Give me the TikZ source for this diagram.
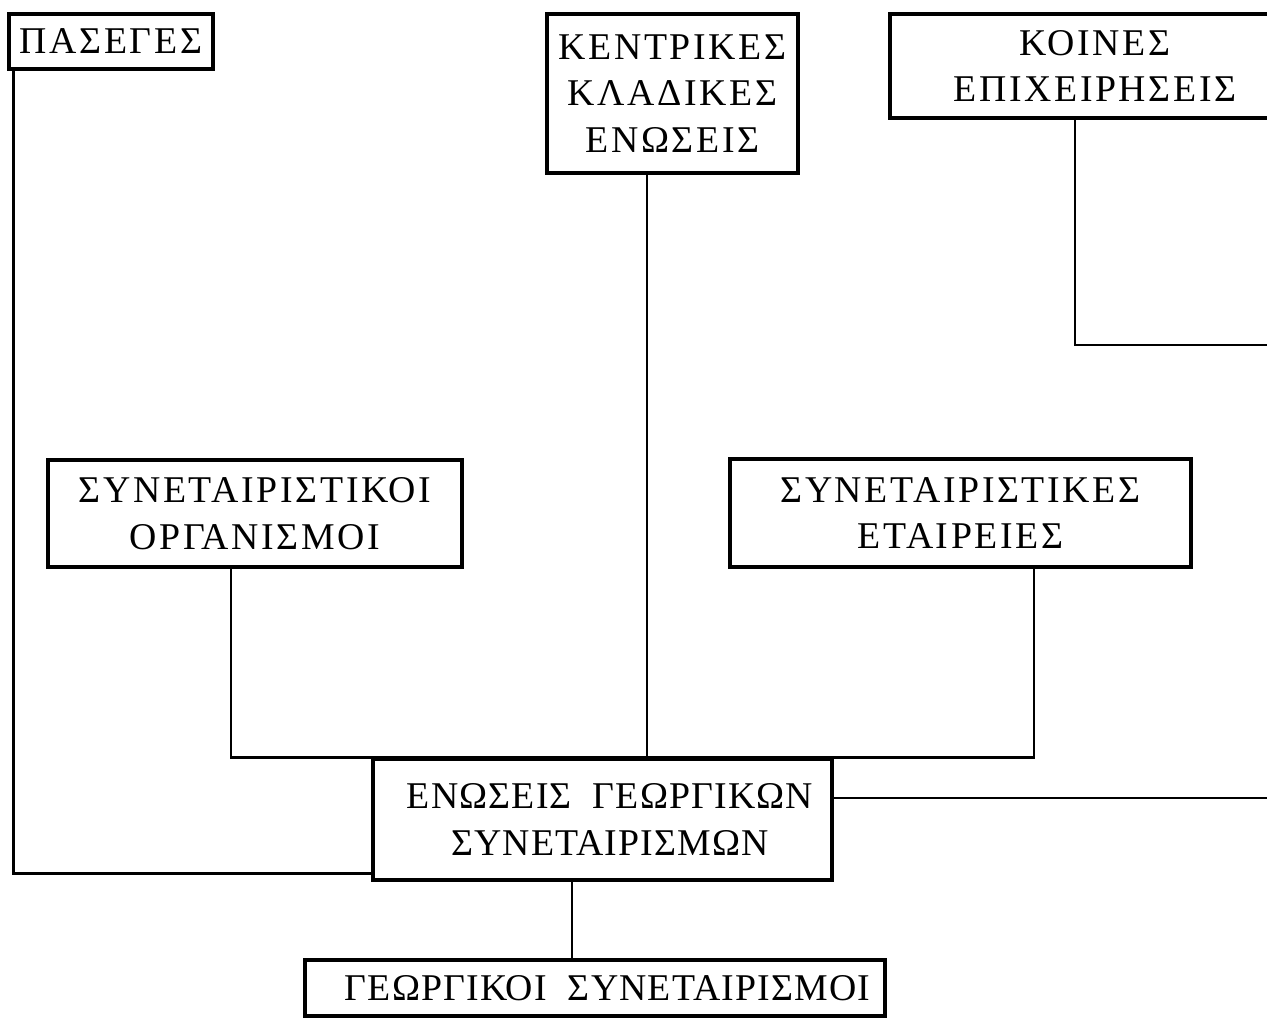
\documentclass[tikz,border=0pt]{standalone}
\usepackage{fontspec}
\setmainfont{Liberation Serif}[LetterSpace=7]
\newfontfamily\tightgr{Liberation Serif}[LetterSpace=3]
\begin{document}
\begin{tikzpicture}[x=0.02cm,y=-0.02cm,
  box/.style={draw,line width=2pt,rectangle,align=center,inner sep=0pt,
    font=\fontsize{21.5}{26.5}\selectfont},
  tightbox/.style={box,font=\tightgr\fontsize{21.5}{26.5}\selectfont},
  link/.style={line width=1.5pt}]
\useasboundingbox (0,0) rectangle (1267,1018);
\clip (0,0) rectangle (1267,1018);
\node[box,minimum width=4.08cm,minimum height=1.1cm] (pas) at (111,41.5) {ΠΑΣΕΓΕΣ};
\node[box,minimum width=5.02cm,minimum height=3.18cm] (kent) at (672.5,93.5) {ΚΕΝΤΡΙΚΕΣ\\ΚΛΑΔΙΚΕΣ\\ΕΝΩΣΕΙΣ};
\node[box,minimum width=8.2cm,minimum height=2.08cm] (koin) at (1095,66) {ΚΟΙΝΕΣ\\ΕΠΙΧΕΙΡΗΣΕΙΣ};
\node[box,minimum width=8.28cm,minimum height=2.14cm] (org) at (255,513.5) {ΣΥΝΕΤΑΙΡΙΣΤΙΚΟΙ\\ΟΡΓΑΝΙΣΜΟΙ};
\node[box,minimum width=9.22cm,minimum height=2.16cm] (etai) at (960.5,513) {ΣΥΝΕΤΑΙΡΙΣΤΙΚΕΣ\\ΕΤΑΙΡΕΙΕΣ};
\node[tightbox,minimum width=9.18cm,minimum height=2.42cm] (enos) at (602.5,819.5) {\hspace*{0.3cm}ΕΝΩΣΕΙΣ\ \ ΓΕΩΡΓΙΚΩΝ\\\hspace*{0.3cm}ΣΥΝΕΤΑΙΡΙΣΜΩΝ};
\node[tightbox,minimum width=11.6cm,minimum height=1.12cm] (geo) at (595,988) {\hspace*{0.5cm}ΓΕΩΡΓΙΚΟΙ\ \ ΣΥΝΕΤΑΙΡΙΣΜΟΙ};
\coordinate (turn) at (1300,345);
\draw[link] ([xshift=0.12cm]pas.south west) |- ([yshift=0.16cm]enos.south west);
\draw[link] ([xshift=-0.51cm]kent.south) -- ([xshift=-0.51cm]kent.south |- enos.north);
\draw[link] ([xshift=-0.48cm]org.south) |- (enos.north);
\draw[link] ([xshift=1.47cm]etai.south) |- (enos.north);
\draw[link] ([xshift=-0.4cm]koin.south) |- (turn) |- ([yshift=0.43cm]enos.east);
\draw[link] ([xshift=-0.61cm]enos.south) -- ([xshift=-0.61cm]enos.south |- geo.north);
\end{tikzpicture}
\end{document}
